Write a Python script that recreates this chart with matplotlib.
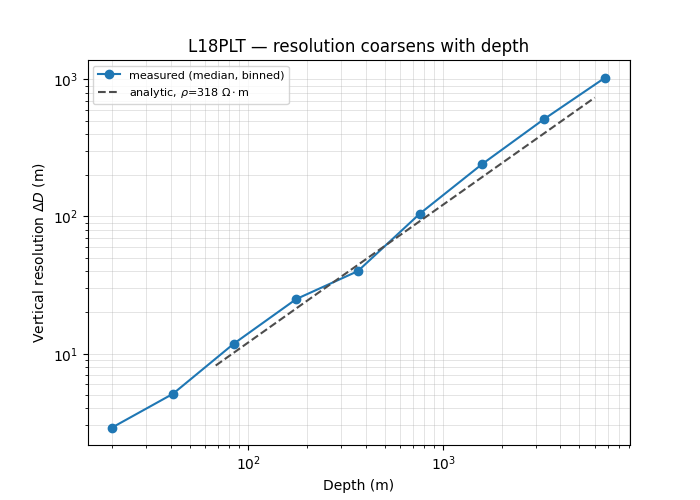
import matplotlib
matplotlib.use("Agg")
import matplotlib.pyplot as plt

# measured (median, binned)
depth_m = [20, 41, 84, 176, 365, 760, 1580, 3280, 6800]
resolution_m = [2.9, 5.1, 11.8, 25.0, 40.0, 105, 240, 510, 1030]

# analytic curve
analytic_depth = [68, 200, 600, 1800, 6000]
analytic_res = [8.2, 24.3, 73, 220, 735]

fig, ax = plt.subplots(figsize=(7, 5), dpi=100)

ax.plot(depth_m, resolution_m, marker="o", color="#1f77b4",
        label="measured (median, binned)")
ax.plot(analytic_depth, analytic_res, "--", color="0.3",
        label=r"analytic, $\rho$=318 $\Omega\cdot$m")

ax.set_xscale("log")
ax.set_yscale("log")
ax.grid(True, which="both", alpha=0.4, color="#b0b0b0", linewidth=0.6)
ax.set_xlabel("Depth (m)")
ax.set_ylabel(r"Vertical resolution $\Delta D$ (m)")
ax.set_title("L18PLT — resolution coarsens with depth")
ax.legend(loc="upper left", fontsize=8)

plt.savefig("out.png", dpi=100)
